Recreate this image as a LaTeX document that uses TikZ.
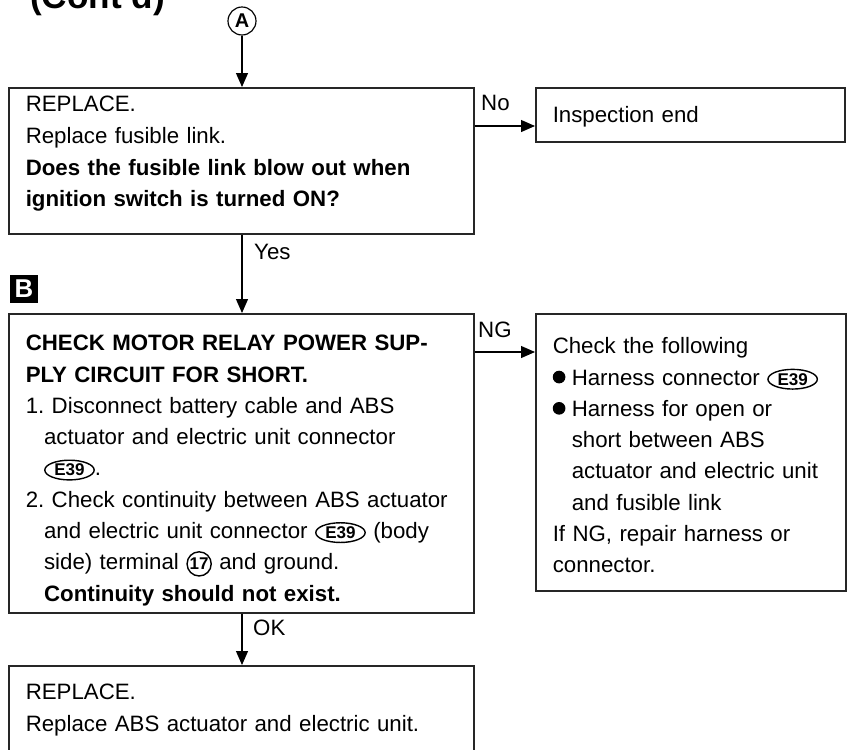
\documentclass[tikz,border=0pt]{standalone}
\usepackage{fontspec}
\setmainfont{Liberation Sans}
\usetikzlibrary{positioning,shapes,arrows.meta,calc}

\newcommand{\txt}{\fontsize{19}{26.7}\selectfont}
% small circled marks used inside the boxes
\tikzset{
  inmark/.style={draw, line width=1.2pt, anchor=base, align=center, text width={}, text depth={},
                 text height={}, minimum width=0pt, minimum height=0pt, inner sep=1.2pt,
                 font=\fontsize{14.5}{14.5}\selectfont\bfseries}
}
\newcommand{\conn}[1]{\tikz[baseline=(e.base)]\node[inmark, ellipse, inner xsep=2pt, inner ysep=0.8pt] (e) {#1};}
\newcommand{\cnum}[1]{\tikz[baseline=(e.base)]\node[inmark, circle, inner sep=0.6pt] (e) {#1};}
\newcommand{\blt}{\makebox[0.57cm][l]{\tikz[baseline=0pt]\fill (0.19cm,0.24cm) circle[radius=0.19cm];}}
\newcommand{\ind}{\hspace*{0.55cm}}

\begin{document}
\frenchspacing
\begin{tikzpicture}[x=0.03cm, y=-0.03cm,
  box/.style={draw=black!85, line width=1.3pt, anchor=north west, align=left,
              inner xsep=0.51cm, inner ysep=0pt, font=\txt},
  arr/.style={-{Triangle[length=0.42cm, width=0.36cm]}, line width=1pt},
  lbl/.style={anchor=west, font=\txt, inner sep=0pt}
]
  \useasboundingbox (0,0) rectangle (851,749);

  \node[anchor=base west, inner sep=0pt, font=\fontsize{30}{30}\selectfont\bfseries] (title) at (30,8) {(Cont'd)};
  \node[circle, draw, line width=1pt, inner sep=0pt, minimum size=0.84cm,
        font=\fontsize{17}{17}\selectfont\bfseries] (a) at (242,21) {A};

  \node[box, minimum width=13.95cm, text width=12.93cm, text height=0.72cm, text depth=3.66cm] (rep) at (8,87)
    {REPLACE.\\
     Replace fusible link.\\[1pt]
     \textbf{Does the fusible link blow out when}\\
     \textbf{ignition switch is turned ON?}};
  \node[box, minimum width=9.27cm, text width=8.25cm, text height=1.05cm, text depth=0.57cm] (ins) at (535,87)
    {Inspection end};

  \node[fill=black, text=white, inner sep=0pt, minimum size=0.84cm,
        font=\fontsize{22}{22}\selectfont\bfseries] (bmk) at (24,289) {B};

  \node[box, minimum width=13.95cm, text width=12.93cm, text height=1.11cm, text depth=7.86cm] (chk) at (8,313)
    {\textbf{CHECK MOTOR RELAY POWER SUP-}\\
     \textbf{PLY CIRCUIT FOR SHORT.}\\
     1. Disconnect battery cable and ABS\\
     \ind actuator and electric unit connector\\
     \ind\conn{E39}.\\
     2. Check continuity between ABS actuator\\
     \ind and electric unit connector \conn{E39} (body\\
     \ind side) terminal \cnum{17} and ground.\\
     \ind\textbf{Continuity should not exist.}};
  \node[box, minimum width=9.3cm, text width=8.28cm, text height=1.2cm, text depth=7.11cm] (fol) at (535,313)
    {Check the following\\
     \blt Harness connector \conn{E39}\\
     \blt Harness for open or\\
     \hspace*{0.57cm}short between ABS\\
     \hspace*{0.57cm}actuator and electric unit\\
     \hspace*{0.57cm}and fusible link\\
     If NG, repair harness or\\
     connector.};

  \node[box, minimum width=13.95cm, text width=12.93cm, text height=1.02cm, text depth=3cm] (rpl) at (8,665)
    {REPLACE.\\
     Replace ABS actuator and electric unit.};

  % connectors
  \coordinate (nop) at ($(ins.north west)+(0,39)$);
  \coordinate (ngp) at ($(fol.north west)+(0,39)$);
  \draw[arr] (a) -- (a |- rep.north);
  \draw[arr] (rep.east |- nop) -- (nop);
  \draw[arr] (a |- rep.south) -- (a |- chk.north);
  \draw[arr] (chk.east |- ngp) -- (ngp);
  \draw[arr] (a |- chk.south) -- (a |- rpl.north);

  \node[lbl] (no)  at (481,103) {No};
  \node[lbl] (yes) at (254,252) {Yes};
  \node[lbl] (ng)  at (478,330) {NG};
  \node[lbl] (ok)  at (253,628) {OK};
\end{tikzpicture}
\end{document}
